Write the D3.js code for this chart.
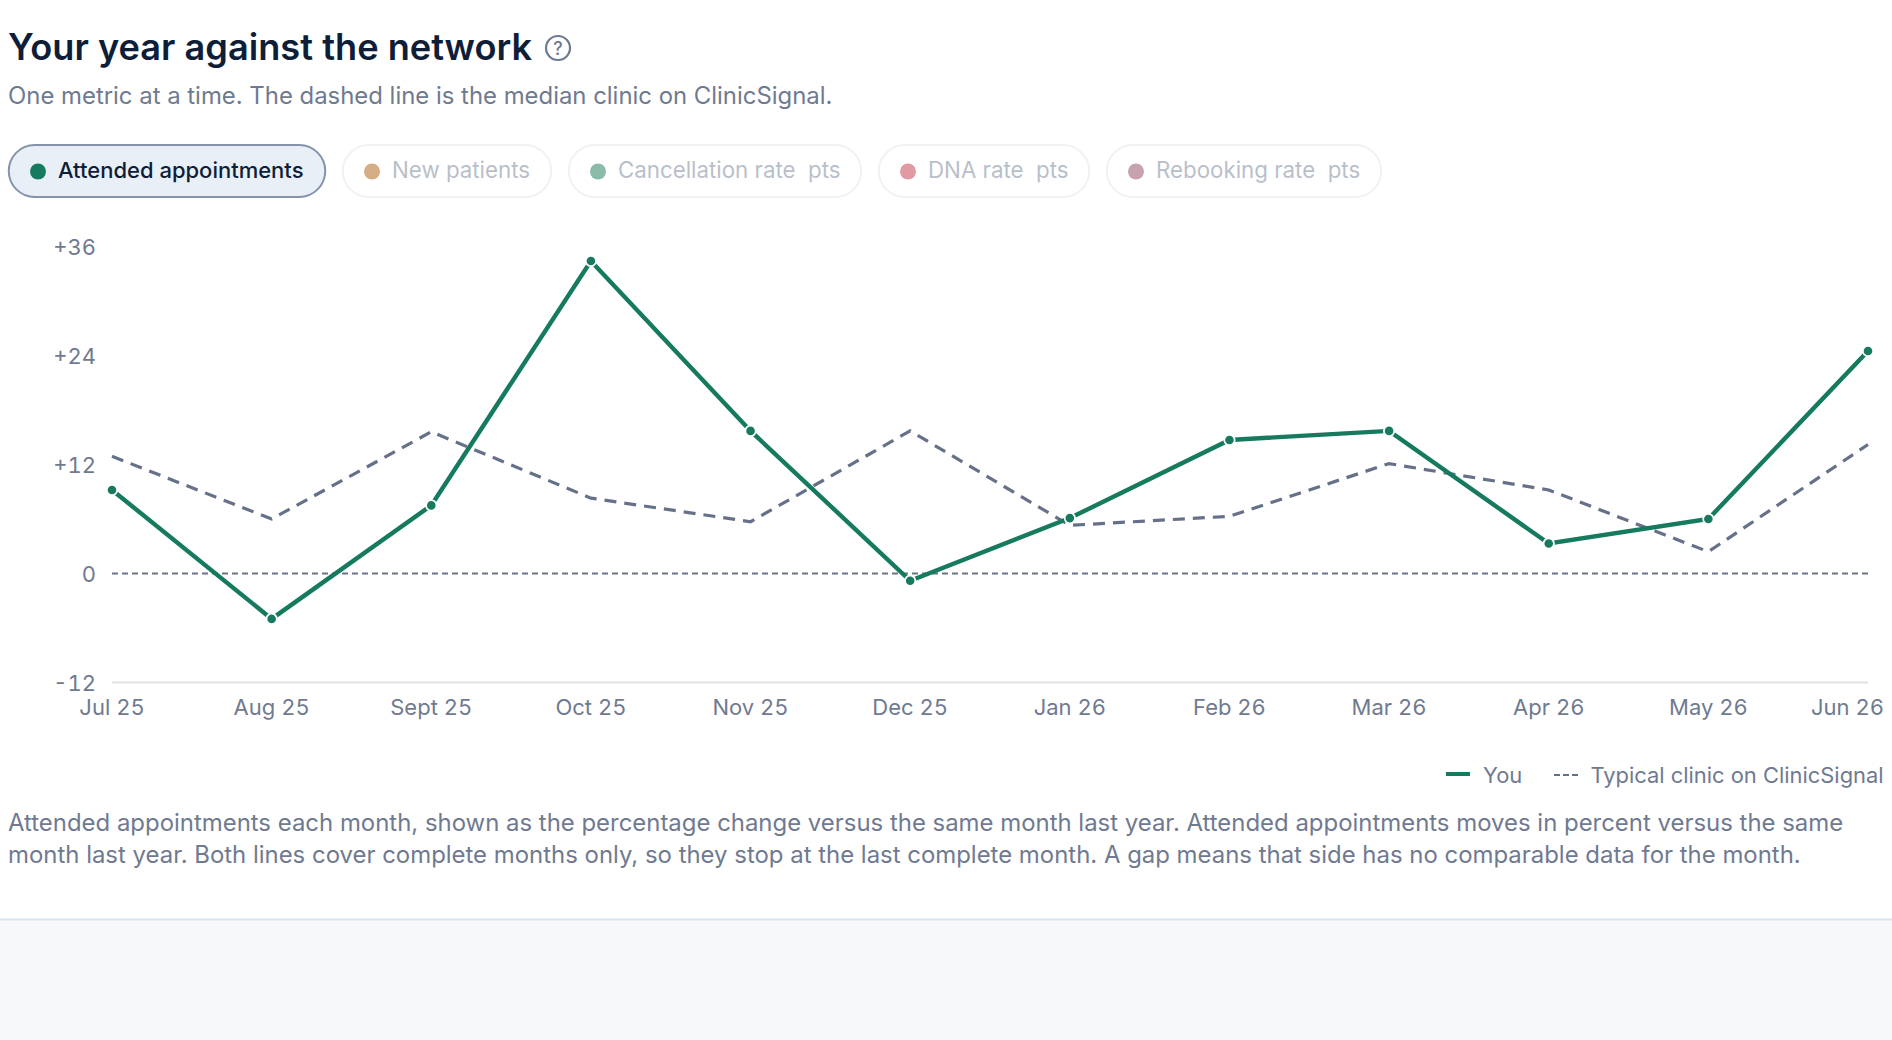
<!DOCTYPE html>
<html>
<head>
<meta charset="utf-8">
<script src="https://cdn.jsdelivr.net/npm/d3@7/dist/d3.min.js"></script>
<style>
  html, body { margin: 0; padding: 0; background: #fff; }
  body { width: 1892px; height: 1040px; overflow: hidden; position: relative; }
  svg { position: absolute; left: 0; top: 0; font-family: Inter, sans-serif; }
  .tick text { font-variant-numeric: tabular-nums; }
</style>
</head>
<body>
<svg id="chart" width="1892" height="1040"></svg>
<script>
// Year-on-year change per month, in percent
const months = ["Jul 25","Aug 25","Sept 25","Oct 25","Nov 25","Dec 25","Jan 26","Feb 26","Mar 26","Apr 26","May 26","Jun 26"];
const youValues = [9.2,-5.0,7.5,34.4,15.7,-0.8,6.1,14.7,15.7,3.3,6.0,24.5];
const typicalValues = [12.9,6.0,15.6,8.3,5.7,15.7,5.3,6.3,12.1,9.2,2.4,14.2];
const yTicks = [-12,0,12,24,36];
const metricNames = ["Attended appointments","New patients","Cancellation rate  pts","DNA rate  pts","Rebooking rate  pts"];
const metricColors = ["#157a5e","#d4ad85","#89bba8","#e09aa2","#c6a2b0"];
const chipLefts = [8,342,568,878,1106];
const chipRights = [326,552,862,1090,1382];
const noteLines = [
  "Attended appointments each month, shown as the percentage change versus the same month last year. Attended appointments moves in percent versus the same",
  "month last year. Both lines cover complete months only, so they stop at the last complete month. A gap means that side has no comparable data for the month."
];

const svg = d3.select("#chart");
const x = d3.scalePoint().domain(months).range([112, 1868]);
const y = d3.scaleLinear().domain([-12, 36]).range([682.5, 246.5]);

// Page footer band
svg.append("rect").attr("x",0).attr("y",919).attr("width",1892).attr("height",121).attr("fill","#f6f8fa");
svg.append("line").attr("x1",0).attr("x2",1892).attr("y1",919.5).attr("y2",919.5).attr("stroke","#dde5ec").attr("stroke-width",2);

// Heading
svg.append("text").attr("x",8).attr("y",60).attr("font-size",36.2).attr("font-weight",600).attr("fill","#0f1e38").text("Your year against the network");
const help = svg.append("g").attr("transform","translate(558,48)");
help.append("circle").attr("r",12).attr("fill","none").attr("stroke","#6f7a90").attr("stroke-width",2.2);
help.append("text").attr("text-anchor","middle").attr("y",6.5).attr("font-size",18).attr("font-weight",500).attr("fill","#6f7a90").text("?");
svg.append("text").attr("x",8).attr("y",104).attr("font-size",23.9).attr("fill","#6f7a90").text("One metric at a time. The dashed line is the median clinic on ClinicSignal.");

// Metric selector chips
const chips = svg.selectAll("g.chip").data(metricNames).join("g").attr("class","chip");
chips.append("rect")
  .attr("x",(d,i)=>chipLefts[i]+0.75).attr("y",145)
  .attr("width",(d,i)=>chipRights[i]-chipLefts[i]-1.5).attr("height",52).attr("rx",26)
  .attr("fill",(d,i)=>i===0?"#e9eff7":"#fff")
  .attr("stroke",(d,i)=>i===0?"#8493ab":"#eff1f4").attr("stroke-width",2);
chips.append("circle").attr("cx",(d,i)=>chipLefts[i]+30).attr("cy",171.5).attr("r",8)
  .attr("fill",(d,i)=>metricColors[i]);
chips.append("text").attr("x",(d,i)=>chipLefts[i]+50).attr("y",178).attr("font-size",(d,i)=>i===0?22:22.3)
  .attr("font-weight",(d,i)=>i===0?500:400)
  .attr("fill",(d,i)=>i===0?"#0f1e38":"#b9bfca")
  .attr("xml:space","preserve").style("white-space","pre").text(d=>d);

// Y axis labels and baselines
const yAxis = svg.append("g").attr("transform","translate(112,0)")
  .call(d3.axisLeft(y).tickValues(yTicks).tickSize(0).tickPadding(16)
    .tickFormat(d => d > 0 ? "+"+d : d < 0 ? "-"+Math.abs(d) : "0"));
yAxis.select(".domain").remove();
yAxis.selectAll("text").attr("font-size",22).attr("font-family","Inter, sans-serif").attr("fill","#6f7a90").attr("dy","0.36em");

svg.append("line").attr("x1",112).attr("x2",1868).attr("y1",y(-12)).attr("y2",y(-12)).attr("stroke","#dfe2e6").attr("stroke-width",2);
svg.append("line").attr("x1",112).attr("x2",1868).attr("y1",y(0)).attr("y2",y(0))
  .attr("stroke","#6b7385").attr("stroke-width",1.8).attr("stroke-dasharray","6 4");

// X axis labels; the last one is pulled in to stay on the page
const xAxis = svg.append("g").attr("transform","translate(0,682)")
  .call(d3.axisBottom(x).tickSize(0).tickPadding(17));
xAxis.select(".domain").remove();
xAxis.selectAll("text").attr("font-size",22).attr("font-family","Inter, sans-serif").attr("fill","#6f7a90")
  .attr("text-anchor",(d,i)=>i===months.length-1?"end":"middle")
  .attr("dx",(d,i)=>i===months.length-1?15.5:-0.5);

// Series lines
const line = d3.line().x((d,i)=>x(months[i])).y(d=>y(d));
svg.append("path").attr("d",line(typicalValues)).attr("fill","none").attr("stroke","#667088")
  .attr("stroke-width",3.2).attr("stroke-dasharray","12 8");
svg.append("path").attr("d",line(youValues)).attr("fill","none").attr("stroke","#157a5e").attr("stroke-width",4.4);
svg.selectAll("circle.you").data(youValues).join("circle").attr("class","you")
  .attr("cx",(d,i)=>x(months[i])).attr("cy",d=>y(d)).attr("r",5.2)
  .attr("fill","#157a5e").attr("stroke","#fff").attr("stroke-width",1.8);

// Legend
svg.append("line").attr("x1",1446).attr("x2",1470).attr("y1",774).attr("y2",774).attr("stroke","#157a5e").attr("stroke-width",4);
svg.append("text").attr("x",1483).attr("y",782.5).attr("font-size",21.9).attr("fill","#6f7a90").text("You");
svg.append("line").attr("x1",1554).attr("x2",1578).attr("y1",775).attr("y2",775).attr("stroke","#667085").attr("stroke-width",2).attr("stroke-dasharray","6 3");
svg.append("text").attr("x",1590.5).attr("y",782.5).attr("font-size",21.9).attr("fill","#6f7a90").text("Typical clinic on ClinicSignal");

// Explanatory note
svg.selectAll("text.note").data(noteLines).join("text").attr("class","note")
  .attr("x",8).attr("y",(d,i)=>831+i*32).attr("font-size",23.93).attr("fill","#6f7a90").text(d=>d);
</script>
</body>
</html>
